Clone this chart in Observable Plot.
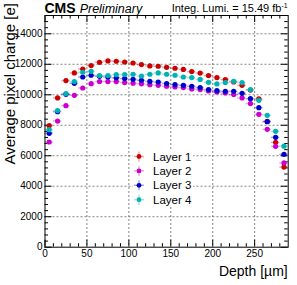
<!DOCTYPE html>
<html><head><meta charset="utf-8">
<script src="https://cdn.jsdelivr.net/npm/d3@7"></script>
<script src="https://cdn.jsdelivr.net/npm/@observablehq/plot@0.6"></script>
<style>body{margin:0;background:#fff}svg{display:block}</style>
</head><body><div id="chart"></div>
<script>
const depth = [5,15,25,35,45,55,65,75,85,95,105,115,125,135,145,155,165,175,185,195,205,215,225,235,245,255,265,275,285];
const layer1 = [7970,9790,10930,11430,11690,11915,12130,12220,12200,12150,12085,11980,11890,11870,11800,11740,11660,11520,11420,11260,11125,10995,10840,10620,10310,9740,8250,6880,5255];
const layer2 = [6900,8275,9285,9965,10445,10730,10865,10865,10865,10800,10760,10720,10660,10620,10560,10510,10470,10380,10340,10250,10180,10115,10010,9790,9420,8715,7730,6615,5530];
const layer3 = [7470,8890,10030,10750,11165,11280,11210,11165,11110,11060,11015,10950,10875,10830,10740,10665,10620,10555,10470,10340,10270,10225,10225,10095,9745,9155,8235,7205,6090];
const layer4 = [7710,8960,10075,10865,11475,11540,11260,11260,11325,11330,11345,11230,11345,11430,11345,11280,11165,11125,11005,10815,10710,10800,10885,10800,10340,9635,8650,7600,6630];
const seriesNames = ["Layer 1","Layer 2","Layer 3","Layer 4"];
const seriesValues = [layer1, layer2, layer3, layer4];
const colors = ["#cc0000","#cc00cc","#0000cc","#00b3b3"];
const xTicks = [0,50,100,150,200,250];
const yTicks = [0,2000,4000,6000,8000,10000,12000,14000];
const binHalf = 5;

const W = 297, H = 285, mL = 44.5, mR = 9.3, mT = 15, mB = 38.3;
const fH = H - mT - mB, fW = W - mL - mR;
const font = "Liberation Sans, Arial, Helvetica, sans-serif";

const rows = [];
seriesNames.forEach((s, i) => depth.forEach((d, j) => rows.push({series: s, x: d, v: seriesValues[i][j], c: colors[i]})));

const xMinor = d3.range(10, 290, 10).filter(v => v % 50 !== 0);
const yMinor = d3.range(400, 15200, 400).filter(v => v % 2000 !== 0);

const chart = Plot.plot({
  width: W, height: H,
  marginLeft: mL, marginRight: mR, marginTop: mT, marginBottom: mB,
  style: {fontFamily: font, background: "#fff", color: "#000"},
  x: {domain: [0, 290]},
  y: {domain: [0, 15200]},
  marks: [
    Plot.gridX(xTicks.filter(v => v > 0), {stroke: "#666", strokeOpacity: 0.8, strokeDasharray: "2,2"}),
    Plot.gridY(yTicks.filter(v => v > 0), {stroke: "#666", strokeOpacity: 0.8, strokeDasharray: "2,2"}),
    Plot.tickX(xTicks, {x: d => d, insetTop: fH - 7, stroke: "#000"}),
    Plot.tickX(xMinor, {x: d => d, insetTop: fH - 3.5, stroke: "#000"}),
    Plot.tickX(xTicks, {x: d => d, insetBottom: fH - 7, stroke: "#000"}),
    Plot.tickX(xMinor, {x: d => d, insetBottom: fH - 3.5, stroke: "#000"}),
    Plot.tickY(yTicks, {y: d => d, insetRight: fW - 7, stroke: "#000"}),
    Plot.tickY(yMinor, {y: d => d, insetRight: fW - 3.5, stroke: "#000"}),
    Plot.tickY(yTicks, {y: d => d, insetLeft: fW - 7, stroke: "#000"}),
    Plot.tickY(yMinor, {y: d => d, insetLeft: fW - 3.5, stroke: "#000"}),
    Plot.axisX({ticks: xTicks, tickSize: 0, tickPadding: 3, fontSize: 10, label: null, tickFormat: d3.format("d")}),
    Plot.axisY({ticks: yTicks, tickSize: 0, tickPadding: 2.5, fontSize: 10, label: null, tickFormat: d3.format("d")}),
    Plot.ruleY(rows, {y: "v", x1: d => d.x - binHalf, x2: d => d.x + binHalf, stroke: "c", strokeOpacity: 0.35, strokeWidth: 1.5}),
    Plot.dot(rows, {x: "x", y: "v", fill: "c", r: 2.6, stroke: "none"}),
    Plot.frame({stroke: "#000", strokeWidth: 1})
  ]
});
document.getElementById("chart").appendChild(chart);

const svg = d3.select(chart);
const t = svg.append("text").attr("x", mL).attr("y", 12.5).attr("text-anchor", "start").attr("font-family", font);
t.append("tspan").attr("font-weight", "bold").attr("font-size", 14).text("CMS");
t.append("tspan").attr("font-style", "italic").attr("font-size", 12.5).attr("dx", 4).text("Preliminary");
const l = svg.append("text").attr("x", W - mR).attr("y", 12).attr("text-anchor", "end").attr("font-family", font).attr("font-size", 11);
l.append("tspan").text("Integ. Lumi. = 15.49 fb");
l.append("tspan").attr("font-size", 7).attr("dy", -4).text("-1");
svg.append("text").attr("transform", `translate(15,3) rotate(-90)`).attr("text-anchor", "end")
  .attr("font-family", font).attr("font-size", 15).text("Average pixel charge [e]");
svg.append("text").attr("x", W - mR).attr("y", 276).attr("text-anchor", "end")
  .attr("font-family", font).attr("font-size", 14).text("Depth [\u00b5m]");
const lg = svg.append("g");
lg.append("rect").attr("x", 133).attr("y", 149).attr("width", 60).attr("height", 57).attr("fill", "#fff");
seriesNames.forEach((s, i) => {
  const y = 156.5 + i * 14.4;
  lg.append("line").attr("x1", 134).attr("x2", 144).attr("y1", y).attr("y2", y).attr("stroke", colors[i]).attr("stroke-opacity", 0.35).attr("stroke-width", 1.5);
  lg.append("line").attr("x1", 139).attr("x2", 139).attr("y1", y - 5).attr("y2", y + 5).attr("stroke", colors[i]).attr("stroke-opacity", 0.35).attr("stroke-width", 1.5);
  lg.append("circle").attr("cx", 139).attr("cy", y).attr("r", 2.4).attr("fill", colors[i]);
  lg.append("text").attr("x", 153).attr("y", y).attr("dy", "0.35em").attr("text-anchor", "start").attr("font-family", font).attr("font-size", 11.5).text(s);
});
</script></body></html>
